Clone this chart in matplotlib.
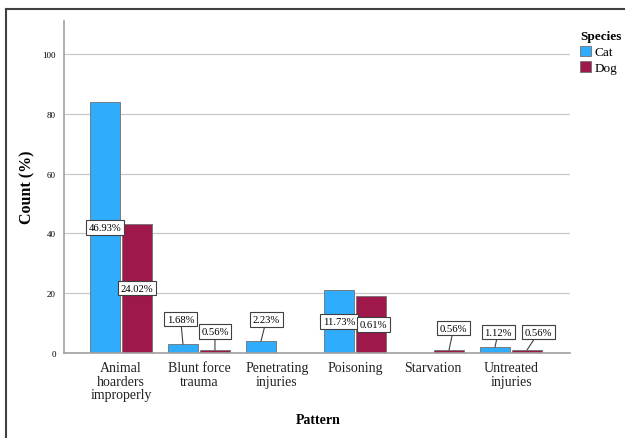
import numpy as np
import matplotlib
matplotlib.use('Agg')
import matplotlib.pyplot as plt
from matplotlib.lines import Line2D
from matplotlib.patches import Patch

plt.rcParams['font.family'] = ['Liberation Serif', 'DejaVu Serif']

# Data
patterns = ['Animal\nhoarders\nimproperly', 'Blunt force\ntrauma', 'Penetrating\ninjuries',
            'Poisoning', 'Starvation', 'Untreated\ninjuries']
cat_counts = [84, 3, 4, 21, 0, 2]
dog_counts = [43, 1, 0, 19, 1, 1]
cat_pct = [46.93, 1.68, 2.23, 11.73, None, 1.12]
dog_pct = [24.02, 0.56, None, 0.61, 0.56, 0.56]

# label placement (data units): (dx from bar centre, y of box centre)
cat_label_pos = [(0.0, 42.0), (-0.03, 11.3), (0.07, 11.2), (0.0, 10.5), None, (0.04, 7.0)]
dog_label_pos = [(0.0, 21.7), (0.0, 7.2), None, (0.03, 9.5), (0.06, 8.3), (0.15, 7.0)]

cat_color = '#30acfc'
dog_color = '#9e184c'

fig = plt.figure(figsize=(6.25, 4.39), dpi=100)
ax = fig.add_axes([0.1024, 0.1936, 0.8096, 0.7564])

x = np.arange(len(patterns))
w = 0.385
off = 0.205
ax.bar(x - off, cat_counts, w, color=cat_color, edgecolor='#707070', linewidth=0.6, zorder=2)
ax.bar(x + off, dog_counts, w, color=dog_color, edgecolor='#707070', linewidth=0.6, zorder=2)

box = dict(boxstyle='square,pad=0.25', fc='white', ec='#404040', lw=0.8)

def label(bx, val, pct, pos):
    if pct is None or pos is None:
        return
    tx, ty = bx + pos[0], pos[1]
    if ty > val:
        ax.annotate(f'{pct:.2f}%', xy=(bx, val), xytext=(tx, ty), ha='center', va='center',
                    fontsize=7.7, bbox=box, zorder=4,
                    arrowprops=dict(arrowstyle='-', color='#404040', lw=0.8,
                                    shrinkA=0, shrinkB=0))
    else:
        ax.text(tx, ty, f'{pct:.2f}%', ha='center', va='center', fontsize=7.7, bbox=box, zorder=4)

for i in range(len(patterns)):
    label(x[i] - off, cat_counts[i], cat_pct[i], cat_label_pos[i])
    label(x[i] + off, dog_counts[i], dog_pct[i], dog_label_pos[i])

ax.set_xlim(-0.73, 5.756)
ax.set_ylim(0, 111)
ax.set_yticks([0, 20, 40, 60, 80, 100])
ax.tick_params(axis='y', labelsize=6.5, length=0, pad=6)
ax.tick_params(axis='x', labelsize=10, length=0, pad=6, labelcolor='#222222')
ax.set_xticks(x)
ax.set_xticklabels(patterns, linespacing=1.02)
ax.grid(axis='y', color='#c8c8c8', linewidth=0.9, zorder=0)
ax.set_axisbelow(True)
for s in ['top', 'right']:
    ax.spines[s].set_visible(False)
for s in ['left', 'bottom']:
    ax.spines[s].set_color('#a0a0a0')
    ax.spines[s].set_linewidth(1.2)

fig.text(27 / 625, 1 - 187 / 439, 'Count (%)', rotation=90, ha='center', va='center',
         fontsize=11.5, fontweight='bold')
fig.text(318 / 625, 1 - 421 / 439, 'Pattern', ha='center', va='center',
         fontsize=10, fontweight='bold')

handles = [Patch(facecolor=cat_color, edgecolor='#707070', lw=0.6, label='Cat'),
           Patch(facecolor=dog_color, edgecolor='#707070', lw=0.6, label='Dog')]
leg = fig.legend(handles=handles, title='Species', loc='upper left',
                 bbox_to_anchor=(571 / 625, 1 - 22 / 439), frameon=False, fontsize=9.5,
                 handlelength=0.8, handleheight=0.8, handletextpad=0.3, labelspacing=0.25,
                 borderpad=0.2, title_fontproperties={'weight': 'bold', 'size': 9.5},
                 alignment='left')

# outer frame (only top and left edges visible in the crop)
fig.add_artist(Line2D([6 / 625, 1], [1 - 10 / 439] * 2, color='#404040', lw=1.5))
fig.add_artist(Line2D([6 / 625] * 2, [0, 1 - 10 / 439], color='#404040', lw=1.5))

fig.savefig('out.png', dpi=100)
